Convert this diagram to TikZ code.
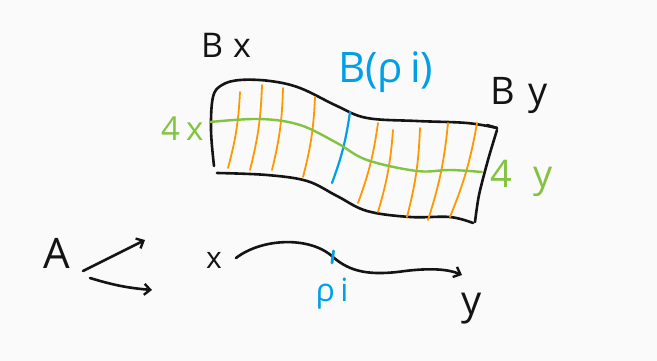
\documentclass[tikz,border=0pt]{standalone}
\usepackage{fontspec}
\setmainfont{Open Sans}
\usepackage{tikz}
\usetikzlibrary{arrows.meta,positioning,calc}
\definecolor{inkblack}{RGB}{20,20,20}
\definecolor{inkorange}{RGB}{255,152,0}
\definecolor{inkblue}{RGB}{0,160,230}
\definecolor{inkgreen}{RGB}{130,195,65}
\definecolor{paper}{RGB}{250,250,250}

\begin{document}
\begin{tikzpicture}[
      x=1pt, y=-1pt,
      pen/.style={line width=2.6pt, line cap=round, line join=round, draw=inkblack},
      fibre/.style={line width=1.8pt, line cap=round, draw=inkorange},
      fibreblue/.style={line width=2.2pt, line cap=round, draw=inkblue},
      lift/.style={line width=2.4pt, line cap=round, draw=inkgreen},
      arr/.style={pen, -{Straight Barb[length=6pt,width=11pt,line width=2.4pt]}},
      lbl/.style={inner sep=0pt, text=inkblack}
    ]
      \fill[paper] (0,0) rectangle (657,361);
      \useasboundingbox (0,0) rectangle (657,361);

      % labels
      \node[lbl, anchor=base west, font=\fontsize{34}{34}\selectfont] (bx) at (201,58) {B\hspace{10pt}x};
      \node[lbl, anchor=base west, text=inkblue, font=\fontsize{42}{42}\selectfont] (bp) at (338,83) {B(ρ\,i)};
      \node[lbl, anchor=base west, font=\fontsize{38}{38}\selectfont] (by) at (490,105) {B\hspace{14pt}y};
      \node[lbl, anchor=base west, text=inkgreen, font=\fontsize{33}{33}\selectfont] (ux) at (161,141) {4\hspace{6pt}x};
      \node[lbl, anchor=base west, text=inkgreen, font=\fontsize{38}{38}\selectfont] (uy) at (490,187) {4\hspace{22pt}y};
      \node[lbl, font=\fontsize{42}{42}\selectfont] (a) at (57,253) {A};
      \node[lbl, font=\fontsize{30}{30}\selectfont] (x) at (214,260) {x};
      \node[lbl, text=inkblue, font=\fontsize{32}{32}\selectfont] (pi) at (332,294) {ρ\,i};
      \node[lbl, font=\fontsize{40}{40}\selectfont] (y) at (472,309) {y};

      % the band over the path
      \draw[pen] plot[smooth, tension=0.6] coordinates {(214,166) (211,130) (213,97) (222,85) (240,80) (270,81) (300,88) (337,106) (367,118) (417,121) (467,123) (497,128)};
      \draw[pen] plot[smooth, tension=0.6] coordinates {(217,173) (267,175) (307,181) (337,196) (367,211) (410,217) (450,217) (473,223)};
      \draw[pen] plot[smooth] coordinates {(497,130) (488,160) (479,195) (475,222)};
      \draw[pen] (487,125) -- (497,128);

      % fibres
      \foreach \xa/\ya/\xb/\yb in {240/92/228/168, 262/85/250/170, 283/88/272/170, 315/97/303/177,
                                   378/123/358/203, 393/130/378/212, 420/128/407/217, 448/123/428/220, 477/123/450/217}
        \draw[fibre] (\xa,\ya) to[bend left=6] (\xb,\yb);
      \draw[fibreblue] (350,112) to[bend left=6] (332,183);

      % lift
      \draw[lift] plot[smooth, tension=0.6] coordinates {(210,122) (260,119) (300,125) (337,143) (367,160) (417,171) (450,170) (482,172)};

      % base
      \coordinate (a1) at (83,271);
      \coordinate (a1e) at (145,240);
      \coordinate (a2) at (90,278);
      \coordinate (a2e) at (152,290);
      \draw[arr] (a1) -- (a1e);
      \draw[arr] (a2) to[bend right=6] (a2e);

      \coordinate (xs) at (236,258);
      \coordinate (pm) at (333,257);
      \coordinate (ye) at (462,275);
      \draw[arr] (xs) .. controls (262,238) and (310,236) .. (pm)
                      .. controls (350,272) and (370,276) .. (405,271)
                      .. controls (430,268) and (448,269) .. (ye);
      \draw[fibreblue, line width=2.8pt] ($(pm)+(0.5,-6)$) -- ($(pm)+(-1,6)$);
    \end{tikzpicture}
\end{document}
